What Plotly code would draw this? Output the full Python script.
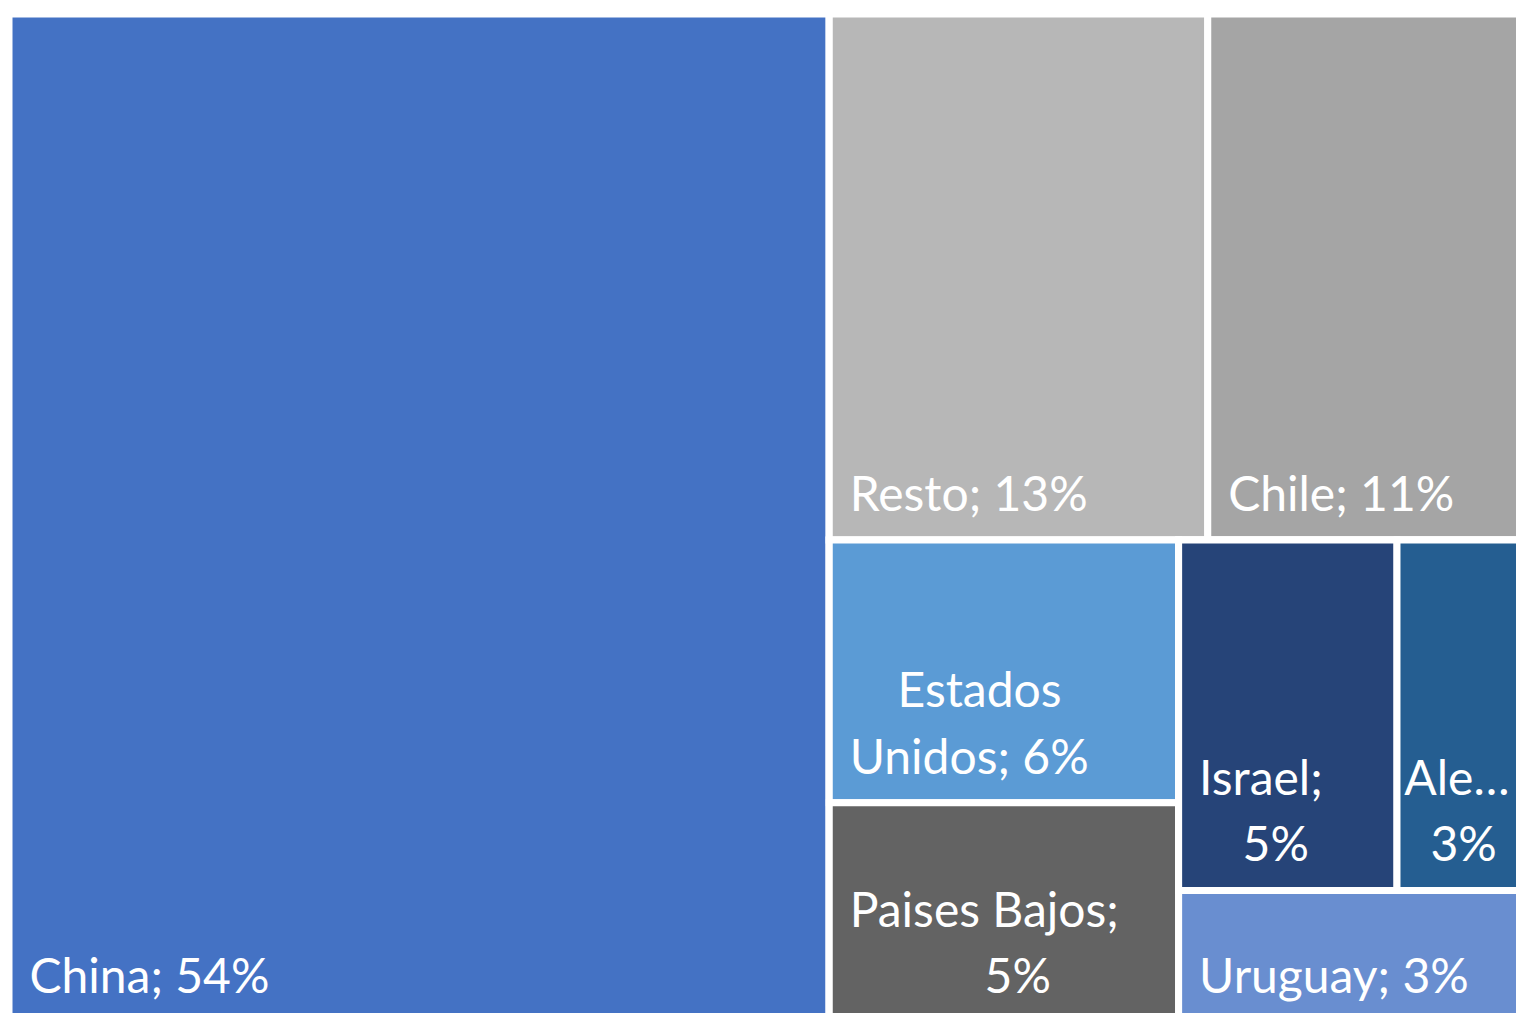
import plotly.graph_objects as go

# Data
countries = ["China", "Resto", "Chile", "Estados Unidos", "Paises Bajos", "Israel", "Alemania", "Uruguay"]
shares = [54, 13, 11, 6, 5, 5, 3, 3]
label_lines = [["China; 54%"], ["Resto; 13%"], ["Chile; 11%"], ["Estados", "Unidos; 6%"],
               ["Paises Bajos;", "5%"], ["Israel;", "5%"], ["Ale…", "3%"], ["Uruguay; 3%"]]
colors = ["#4472C4", "#B7B7B7", "#A5A5A5", "#5B9BD5", "#636363", "#264478", "#255E91", "#698ED0"]

# Style: left padding and line indents (in small non-breaking spaces) to centre wrapped lines
left_pads = [4, 4, 4, 4, 4, 4, 1, 4]
line_indents = [[0], [0], [0], [11, 0], [0, 31], [0, 10], [0, 6], [0]]
BIG = 48
BASE = 17

# Layout groups (invisible) to reproduce the tile arrangement
groups = {
    "Total": None,
    "G_right": "Total",
    "G_top": "G_right",
    "G_bottom": "G_right",
    "G_uspb": "G_bottom",
    "G_iau": "G_bottom",
    "G_ia": "G_iau",
}
country_parent = {
    "China": "Total",
    "Resto": "G_top",
    "Chile": "G_top",
    "Estados Unidos": "G_uspb",
    "Paises Bajos": "G_uspb",
    "Israel": "G_ia",
    "Alemania": "G_ia",
    "Uruguay": "G_iau",
}

share_of = dict(zip(countries, shares))


def subtotal(node):
    if node in share_of:
        return share_of[node]
    s = 0
    for c, p in country_parent.items():
        if p == node:
            s += share_of[c]
    for g, p in groups.items():
        if p == node:
            s += subtotal(g)
    return s


def make_label(lines, indents, pad):
    parts = []
    for ln, ind in zip(lines, indents):
        parts.append("\u00a0" * (pad + ind) + f"<span style='font-size:{BIG}px'>{ln}</span>")
    return "<br><br><br>".join(parts) + "<br>\u00a0"


order = ["Total", "China", "G_right", "G_top", "Resto", "Chile", "G_bottom",
         "G_uspb", "Estados Unidos", "Paises Bajos", "G_iau", "G_ia", "Israel", "Alemania", "Uruguay"]
ids, parents, values, texts, cols = [], [], [], [], []
for n in order:
    ids.append(n)
    if n in groups:
        parents.append(groups[n] or "")
        texts.append("")
        cols.append("#FFFFFF")
    else:
        i = countries.index(n)
        parents.append(country_parent[n])
        texts.append(make_label(label_lines[i], line_indents[i], left_pads[i]))
        cols.append(colors[i])
    values.append(subtotal(n))

fig = go.Figure(go.Treemap(
    ids=ids,
    labels=ids,
    parents=parents,
    values=values,
    branchvalues="total",
    sort=False,
    text=texts,
    textinfo="text",
    textposition="bottom left",
    textfont=dict(family="Lato", size=BASE, color="white"),
    tiling=dict(packing="slice-dice", pad=0),
    marker=dict(colors=cols, line=dict(color="white", width=7), pad=dict(t=0, l=0, r=0, b=0)),
    pathbar=dict(visible=False),
    hoverinfo="skip",
))

# The reference chart is slightly cropped on the right and bottom
fig.update_layout(
    width=1528, height=1022,
    margin=dict(l=9, t=14, r=0, b=0),
    paper_bgcolor="white",
    showlegend=False,
)

fig.write_html(
    "out.html",
    config={"displayModeBar": False},
    post_script="document.body.style.margin='0';document.body.style.overflow='hidden';"
                "document.documentElement.style.overflow='hidden';",
)
